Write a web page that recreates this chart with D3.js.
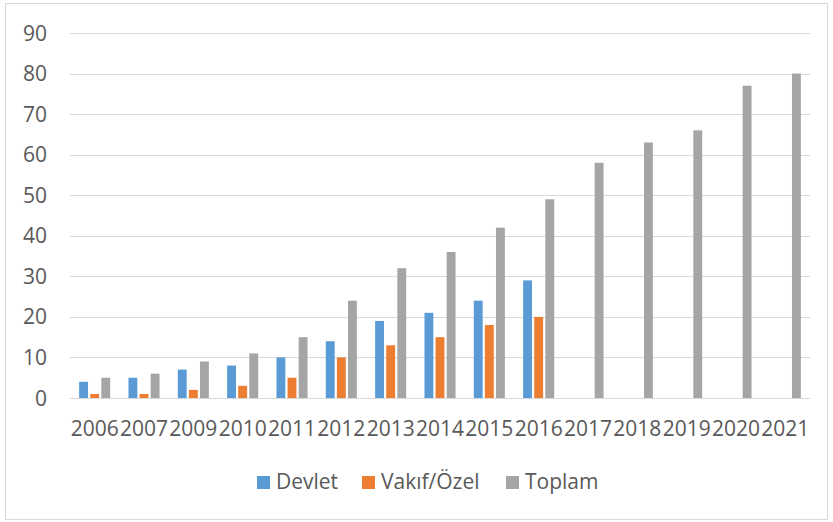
<!DOCTYPE html>
<html>
<head>
<meta charset="utf-8">
<script src="https://cdn.jsdelivr.net/npm/d3@7"></script>
<style>
body { margin: 0; background: #fff; }
text { font-family: "Open Sans", sans-serif; fill: #595959; }
</style>
</head>
<body>
<div id="chart"></div>
<script>
var width = 833;
var height = 522;

var years = ["2006", "2007", "2009", "2010", "2011", "2012", "2013", "2014", "2015", "2016", "2017", "2018", "2019", "2020", "2021"];
var devlet = [4, 5, 7, 8, 10, 14, 19, 21, 24, 29, null, null, null, null, null];
var vakif = [1, 1, 2, 3, 5, 10, 13, 15, 18, 20, null, null, null, null, null];
var toplam = [5, 6, 9, 11, 15, 24, 32, 36, 42, 49, 58, 63, 66, 77, 80];
var seriesNames = ["Devlet", "Vakıf/Özel", "Toplam"];
var colors = ["#5b9bd5", "#ed7d31", "#a5a5a5"];
var yTicks = [0, 10, 20, 30, 40, 50, 60, 70, 80, 90];

var series = [devlet, vakif, toplam];

var svg = d3.select("#chart")
	.append("svg")
	.attr("width", width)
	.attr("height", height);

// chart border
svg.append("rect")
	.attr("x", 5.5)
	.attr("y", 3.5)
	.attr("width", 822)
	.attr("height", 516)
	.attr("fill", "#fff")
	.attr("stroke", "#d9d9d9");

var x0 = d3.scaleBand()
	.domain(years)
	.range([70, 810])
	.paddingInner(0.37)
	.paddingOuter(0.185);

var x1 = d3.scaleBand()
	.domain(d3.range(series.length))
	.range([0, x0.bandwidth()])
	.paddingInner(0.2);

var y = d3.scaleLinear()
	.domain([0, 90])
	.range([398, 33]);

// gridlines
svg.append("g")
	.selectAll("line")
	.data(yTicks)
	.enter()
	.append("line")
	.attr("x1", 70)
	.attr("x2", 810)
	.attr("y1", function(d){ return Math.round(y(d)) + 0.5; })
	.attr("y2", function(d){ return Math.round(y(d)) + 0.5; })
	.attr("stroke", "#d9d9d9")
	.attr("stroke-width", 1.2);

// y labels
svg.append("g")
	.selectAll("text")
	.data(yTicks)
	.enter()
	.append("text")
	.attr("x", 47)
	.attr("y", function(d){ return y(d); })
	.attr("dy", "0.36em")
	.attr("text-anchor", "end")
	.attr("font-size", 21)
	.text(function(d){ return d; });

// bars
var groups = svg.append("g")
	.selectAll(".year")
	.data(years)
	.enter()
	.append("g")
	.attr("class", "year")
	.attr("transform", function(d){ return "translate(" + x0(d) + ",0)"; });

groups.selectAll("rect")
	.data(function(d, i){
		return series.map(function(s, k){ return {k: k, value: s[i]}; })
			.filter(function(e){ return e.value != null; });
	})
	.enter()
	.append("rect")
	.attr("x", function(d){ return x1(d.k); })
	.attr("width", x1.bandwidth())
	.attr("y", function(d){ return y(d.value); })
	.attr("height", function(d){ return y(0) - y(d.value); })
	.attr("fill", function(d){ return colors[d.k]; });

// x labels
svg.append("g")
	.selectAll("text")
	.data(years)
	.enter()
	.append("text")
	.attr("x", function(d){ return x0(d) + x0.bandwidth() / 2; })
	.attr("y", 436)
	.attr("text-anchor", "middle")
	.attr("font-size", 21)
	.text(function(d){ return d; });

// legend
var legendX = [257, 362, 506];
var legend = svg.append("g")
	.selectAll("g")
	.data(seriesNames)
	.enter()
	.append("g")
	.attr("transform", function(d, i){ return "translate(" + legendX[i] + ",476)"; });

legend.append("rect")
	.attr("width", 13)
	.attr("height", 13)
	.attr("fill", function(d, i){ return colors[i]; });

legend.append("text")
	.attr("x", 19)
	.attr("y", 13)
	.attr("font-size", 21)
	.text(function(d){ return d; });
</script>
</body>
</html>
